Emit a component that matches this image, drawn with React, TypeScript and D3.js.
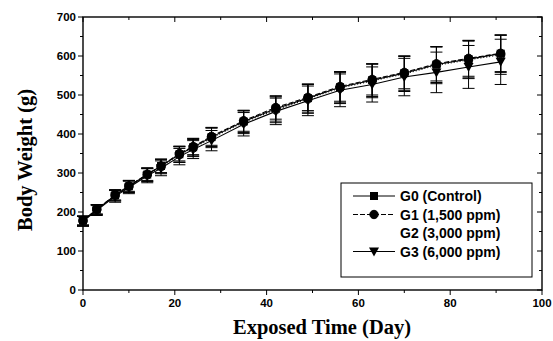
import * as d3 from 'd3';

const days = [0, 3, 7, 10, 14, 17, 21, 24, 28, 35, 42, 49, 56, 63, 70, 77, 84, 91];

const g0 = [178, 206, 243, 266, 296, 318, 348, 366, 392, 432, 465, 492, 520, 538, 556, 578, 592, 606];
const g1 = [178, 207, 244, 267, 297, 318, 350, 368, 394, 434, 468, 494, 522, 540, 558, 580, 594, 607];
const g2 = [177, 206, 242, 265, 295, 316, 347, 364, 390, 430, 462, 490, 518, 536, 554, 576, 590, 603];
const g3 = [176, 204, 240, 263, 293, 312, 342, 360, 383, 425, 458, 485, 512, 527, 546, 558, 572, 585];

const sd0 = [12, 12, 14, 15, 17, 18, 20, 22, 24, 28, 32, 36, 40, 42, 44, 46, 48, 48];
const sd1 = [11, 12, 13, 14, 16, 17, 19, 21, 23, 27, 30, 34, 38, 40, 42, 44, 46, 47];
const sd2 = [12, 13, 14, 15, 17, 18, 20, 22, 25, 29, 33, 37, 40, 43, 45, 47, 48, 50];
const sd3 = [13, 13, 15, 16, 18, 19, 21, 23, 26, 30, 34, 38, 42, 45, 48, 52, 55, 58];

const groupNames = ['G0 (Control)', 'G1 (1,500 ppm)', 'G2 (3,000 ppm)', 'G3 (6,000 ppm)'];
const xTicks = [0, 20, 40, 60, 80, 100];
const yTicks = [0, 100, 200, 300, 400, 500, 600, 700];

const W = 553, H = 341;
const L = 83, R = 542, T = 17, B = 290;

const series = [
  { name: groupNames[0], vals: g0, sd: sd0, dash: null, marker: 'square', fill: '#000' },
  { name: groupNames[1], vals: g1, sd: sd1, dash: '5,2', marker: 'circle', fill: '#000' },
  { name: groupNames[2], vals: g2, sd: sd2, dash: '1,2', marker: 'none', fill: '#fff' },
  { name: groupNames[3], vals: g3, sd: sd3, dash: null, marker: 'tri', fill: '#000' },
];

function Marker({ kind, x, y, fill }: { kind: string; x: number; y: number; fill: string }) {
  if (kind === 'square') return <rect x={x - 4} y={y - 4} width={8} height={8} fill={fill} />;
  if (kind === 'circle') return <circle cx={x} cy={y} r={4.2} fill={fill} stroke="#000" />;
  if (kind === 'tri') return <path d={`M${x - 5},${y - 4}L${x + 5},${y - 4}L${x},${y + 5}Z`} fill={fill} />;
  return null;
}

export default function App() {
  const x = d3.scaleLinear().domain([0, 100]).range([L, R]);
  const y = d3.scaleLinear().domain([0, 700]).range([B, T]);
  const xMinor = d3.range(0, 101, 10);
  const yMinor = d3.range(0, 701, 50);
  const sans = 'Liberation Sans, Arial, sans-serif';
  const serif = 'Liberation Serif, Times New Roman, serif';

  return (
    <svg width={W} height={H} style={{ position: 'absolute', left: 0, top: 0, background: '#fff' }}>
      <rect width={W} height={H} fill="#fff" />
      {/* error bars */}
      {series.map((s, si) => (
        <g key={'e' + si} stroke="#000" strokeWidth={1}>
          {days.map((d, i) => {
            const cx = x(d);
            const hi = y(s.vals[i] + s.sd[i]);
            const lo = y(s.vals[i] - s.sd[i]);
            return (
              <g key={i}>
                <line x1={cx} x2={cx} y1={hi} y2={lo} />
                <line x1={cx - 6} x2={cx + 6} y1={hi} y2={hi} />
                <line x1={cx - 6} x2={cx + 6} y1={lo} y2={lo} />
              </g>
            );
          })}
        </g>
      ))}
      {/* lines */}
      {series.map((s, si) => {
        const line = d3.line<number>().x((_, i) => x(days[i])).y(v => y(v));
        return (
          <path key={'l' + si} d={line(s.vals) || ''} fill="none" stroke="#000"
            strokeWidth={1.1} strokeDasharray={s.dash || undefined} />
        );
      })}
      {/* markers */}
      {[2, 1, 0, 3].map(si => {
        const s = series[si];
        const kind = si === 2 ? 'circle' : s.marker;
        return (
          <g key={'m' + si}>
            {days.map((d, i) => (
              <Marker key={i} kind={kind} x={x(d)} y={y(s.vals[i])} fill={s.fill} />
            ))}
          </g>
        );
      })}
      {/* frame */}
      <rect x={L} y={T} width={R - L} height={B - T} fill="none" stroke="#000" strokeWidth={1.4} />
      {/* ticks */}
      {yMinor.map(v => {
        const len = v % 100 === 0 ? 5 : 3;
        return (
          <g key={'yt' + v} stroke="#000">
            <line x1={L - len} x2={L} y1={y(v)} y2={y(v)} />
            <line x1={R - len} x2={R} y1={y(v)} y2={y(v)} />
          </g>
        );
      })}
      {xMinor.map(v => {
        const len = v % 20 === 0 ? 5 : 3;
        return (
          <g key={'xt' + v} stroke="#000">
            <line x1={x(v)} x2={x(v)} y1={B} y2={B + len} />
            <line x1={x(v)} x2={x(v)} y1={T} y2={T + len} />
          </g>
        );
      })}
      {yTicks.map(v => (
        <text key={'yl' + v} x={L - 7} y={y(v) + 4} textAnchor="end" fontFamily={sans}
          fontWeight="bold" fontSize={11.5}>{v}</text>
      ))}
      {xTicks.map(v => (
        <text key={'xl' + v} x={x(v)} y={B + 17} textAnchor="middle" fontFamily={sans}
          fontWeight="bold" fontSize={11.5}>{v}</text>
      ))}
      <text x={322} y={334} textAnchor="middle" fontFamily={serif} fontWeight="bold" fontSize={20.5}>
        Exposed Time (Day)
      </text>
      <text transform={`translate(32,160) rotate(-90)`} textAnchor="middle" fontFamily={serif}
        fontWeight="bold" fontSize={20.5}>Body Weight (g)</text>
      {/* legend */}
      <rect x={341} y={183} width={191} height={94} fill="#fff" stroke="#000" strokeWidth={1} />
      {series.map((s, si) => {
        const ly = 196 + si * 18.5;
        return (
          <g key={'lg' + si}>
            {si !== 2 && (
              <line x1={353} x2={395} y1={ly} y2={ly} stroke="#000" strokeDasharray={s.dash || undefined} />
            )}
            {si !== 2 && <Marker kind={s.marker} x={374} y={ly} fill="#000" />}
            <text x={400} y={ly + 5} fontFamily={sans} fontWeight="bold" fontSize={14}>{s.name}</text>
          </g>
        );
      })}
    </svg>
  );
}
